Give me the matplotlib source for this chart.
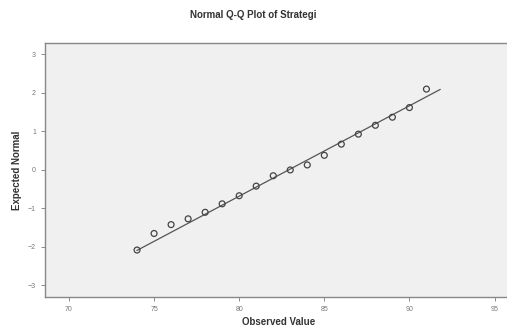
import matplotlib.pyplot as plt

observed = [74, 75, 76, 77, 78, 79, 80, 81, 82, 83, 84, 85, 86, 87, 88, 89, 90, 91]
expected = [-2.08, -1.65, -1.42, -1.27, -1.10, -0.88, -0.67, -0.42, -0.15,
            0.00, 0.13, 0.38, 0.67, 0.93, 1.16, 1.37, 1.62, 2.10]

# reference line (normal with sample mean / sd)
mean = 82.9
sd = 4.26
line_x = [74, 91.8]

x_ticks = [70, 75, 80, 85, 90, 95]
y_ticks = [-3, -2, -1, 0, 1, 2, 3]

plt.rcParams['font.family'] = ['Liberation Sans', 'DejaVu Sans']

fig = plt.figure(figsize=(5.07, 3.30), dpi=100)
ax = fig.add_axes([0.089, 0.10, 0.92, 0.77])
ax.set_facecolor('#f0f0f0')

line_y = [(v - mean) / sd for v in line_x]
ax.plot(line_x, line_y, color='#555555', linewidth=0.9)
ax.scatter(observed, expected, s=18, facecolors='none', edgecolors='#444444', linewidths=0.9, zorder=3)

ax.set_xlim(68.6, 96.0)
ax.set_ylim(-3.3, 3.3)
ax.set_xticks(x_ticks)
ax.set_yticks(y_ticks)
ax.tick_params(labelsize=5, colors='#777777', length=3, width=0.6)

for side in ['left', 'bottom', 'top']:
    ax.spines[side].set_color('#888888')
    ax.spines[side].set_linewidth(1.0)
ax.spines['right'].set_visible(False)

ax.set_xlabel('Observed Value', fontsize=7, fontweight='bold', color='#333333', labelpad=3)
ax.set_ylabel('Expected Normal', fontsize=7, fontweight='bold', color='#333333', labelpad=4)
fig.suptitle('Normal Q-Q Plot of Strategi', fontsize=7, fontweight='bold', color='#333333', y=0.97)

fig.savefig('out.png', dpi=100)
